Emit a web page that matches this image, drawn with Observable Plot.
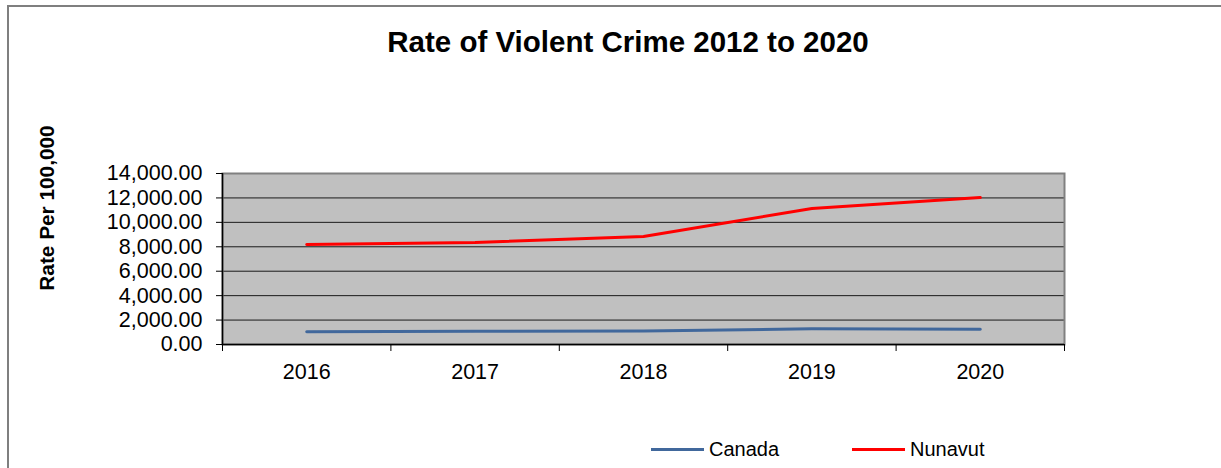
<!DOCTYPE html>
<html>
<head>
<meta charset="utf-8">
<script src="https://cdn.jsdelivr.net/npm/d3@7"></script>
<script src="https://cdn.jsdelivr.net/npm/@observablehq/plot@0.6"></script>
<style>
  html, body { margin: 0; padding: 0; background: #fff; }
  #wrap { position: relative; width: 1221px; height: 468px; overflow: hidden; font-family: "Liberation Sans", Arial, sans-serif; }
  #border { position: absolute; left: 7px; top: 5px; width: 1300px; height: 600px; border-left: 2px solid #7f7f7f; border-top: 2px solid #7f7f7f; }
  #chart { position: absolute; left: 0; top: 0; }
  .title { position: absolute; left: 628px; top: 27px; transform: translateX(-50%); font-size: 29.5px; font-weight: bold; line-height: 1; white-space: nowrap; color: #000; }
  .ylabel { position: absolute; left: 47px; top: 208px; transform: translate(-50%, -50%) rotate(-90deg); font-size: 20.8px; font-weight: bold; line-height: 1; white-space: nowrap; color: #000; }
  .leg-line { position: absolute; height: 3px; }
  .leg-text { position: absolute; font-size: 20px; line-height: 1; white-space: nowrap; color: #000; }
</style>
</head>
<body>
<div id="wrap">
  <div id="border"></div>
  <div id="chart"></div>
  <div class="title" id="title"></div>
  <div class="ylabel" id="ylabel"></div>
</div>
<script>
// ---- data ----
const titleText = "Rate of Violent Crime 2012 to 2020";
const yLabelText = "Rate Per 100,000";
const years = [2016, 2017, 2018, 2019, 2020];
const canada = [1050, 1080, 1110, 1280, 1250];
const nunavut = [8190, 8350, 8850, 11130, 12030];
const seriesNames = ["Canada", "Nunavut"];
const seriesColors = ["#41689c", "#ff0000"];
const yTicks = [0, 2000, 4000, 6000, 8000, 10000, 12000, 14000];

// ---- table ----
const rows = [];
years.forEach((yr, i) => {
  rows.push({year: yr, value: canada[i], series: seriesNames[0]});
  rows.push({year: yr, value: nunavut[i], series: seriesNames[1]});
});
const bounds = years.map(y => y - 0.5).concat([years[years.length - 1] + 0.5]);

const chart = Plot.plot({
  width: 1221,
  height: 468,
  marginLeft: 222,
  marginRight: 157,
  marginTop: 173,
  marginBottom: 124,
  style: {fontFamily: "Liberation Sans, Arial, sans-serif", background: "transparent", color: "#000"},
  x: {type: "linear", domain: [bounds[0], bounds[bounds.length - 1]], axis: null},
  y: {domain: [0, 14000], axis: null},
  color: {domain: seriesNames, range: seriesColors},
  marks: [
    Plot.frame({fill: "#c0c0c0", stroke: null}),
    Plot.ruleY(yTicks, {stroke: "#1a1a1a", strokeWidth: 1}),
    Plot.line(rows, {x: "year", y: "value", z: "series", stroke: "series", strokeWidth: 3}),
    Plot.frame({stroke: "#808080", strokeWidth: 2}),
    Plot.ruleY([0], {stroke: "#000", strokeWidth: 1.5}),
    Plot.ruleX([bounds[0]], {stroke: "#000", strokeWidth: 1.5}),
    Plot.axisY({ticks: yTicks, tickSize: 6, tickPadding: 14, tickFormat: d3.format(",.2f"), fontSize: 21.5, label: null, stroke: "#000"}),
    Plot.axisX({ticks: bounds, tickSize: 7, tickFormat: () => "", label: null, stroke: "#000"}),
    Plot.axisX({ticks: years, tickSize: 0, tickPadding: 19, tickFormat: d => String(d), fontSize: 21.5, label: null})
  ]
});
document.getElementById("chart").appendChild(chart);
document.getElementById("title").textContent = titleText;
document.getElementById("ylabel").textContent = yLabelText;

// ---- legend ----
const wrap = document.getElementById("wrap");
const legendX = [651, 852];
seriesNames.forEach((name, i) => {
  const ln = document.createElement("div");
  ln.className = "leg-line";
  ln.style.left = legendX[i] + "px";
  ln.style.top = "448px";
  ln.style.width = "53px";
  ln.style.background = seriesColors[i];
  wrap.appendChild(ln);
  const tx = document.createElement("div");
  tx.className = "leg-text";
  tx.style.left = (legendX[i] + 58) + "px";
  tx.style.top = "439px";
  tx.textContent = name;
  wrap.appendChild(tx);
});
</script>
</body>
</html>
